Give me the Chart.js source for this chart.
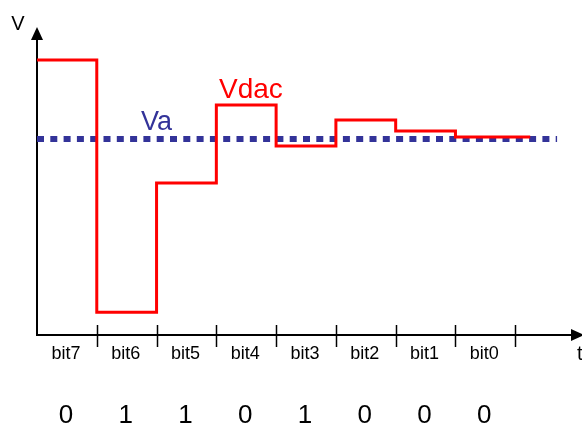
<!DOCTYPE html>
<html>
<head>
<meta charset="utf-8">
<script src="https://cdn.jsdelivr.net/npm/chart.js@4"></script>
<style>
  html, body { margin: 0; padding: 0; background: #fff; }
  canvas { display: block; }
</style>
</head>
<body>
<canvas id="grafico" width="582" height="428"></canvas>
<script>
// bit periods (x in bit times), DAC output and input voltage
const bitLabels = ['bit7', 'bit6', 'bit5', 'bit4', 'bit3', 'bit2', 'bit1', 'bit0'];
const bitValues = ['0', '1', '1', '0', '1', '0', '0', '0'];
const stepTimes = [0, 1, 2, 3, 4, 5, 6, 7, 8.25];
const vdacValues = [9.02, 0.75, 4.98, 7.54, 6.2, 7.05, 6.69, 6.49, 6.49];
const vaTimes = [0, 8.7];
const vaValues = [6.43, 6.43];

const FONT = '"Liberation Sans", Arial, sans-serif';

// axes with arrows, bit ticks and labels
const ejes = {
  id: 'ejes',
  beforeDatasetsDraw(chart) {
    const ctx = chart.ctx;
    const xs = chart.scales.x, ys = chart.scales.y;
    const x0 = xs.getPixelForValue(0), y0 = ys.getPixelForValue(0);
    ctx.save();
    ctx.strokeStyle = '#000';
    ctx.fillStyle = '#000';
    ctx.lineWidth = 2;
    // y axis
    ctx.beginPath();
    ctx.moveTo(x0, y0 + 1);
    ctx.lineTo(x0, 38);
    ctx.stroke();
    ctx.beginPath();
    ctx.moveTo(x0, 27);
    ctx.lineTo(x0 - 6, 40);
    ctx.lineTo(x0 + 6, 40);
    ctx.closePath();
    ctx.fill();
    // x axis
    ctx.beginPath();
    ctx.moveTo(x0 - 1, y0);
    ctx.lineTo(574, y0);
    ctx.stroke();
    ctx.beginPath();
    ctx.moveTo(584, y0);
    ctx.lineTo(571, y0 - 6);
    ctx.lineTo(571, y0 + 6);
    ctx.closePath();
    ctx.fill();
    // ticks at bit boundaries
    ctx.lineWidth = 1.5;
    for (let i = 1; i <= bitLabels.length; i++) {
      const px = Math.round(xs.getPixelForValue(i)) + 0.5;
      ctx.beginPath();
      ctx.moveTo(px, y0 - 10);
      ctx.lineTo(px, y0 + 12);
      ctx.stroke();
    }
    // labels
    ctx.textAlign = 'center';
    ctx.textBaseline = 'alphabetic';
    ctx.font = '18px ' + FONT;
    bitLabels.forEach((b, i) => {
      ctx.fillText(b, xs.getPixelForValue(i + 0.5) - 1, 359);
    });
    ctx.font = '26px ' + FONT;
    bitValues.forEach((v, i) => {
      ctx.fillText(v, xs.getPixelForValue(i + 0.5) - 1, 423);
    });
    ctx.font = '20px ' + FONT;
    ctx.fillText('V', 18, 30);
    ctx.textAlign = 'left';
    ctx.fillText('t', 577, 360);
    ctx.font = '28px ' + FONT;
    ctx.fillStyle = '#ff0000';
    ctx.fillText('Vdac', 219, 98);
    ctx.fillStyle = '#333399';
    ctx.font = '27px ' + FONT;
    ctx.fillText('Va', 141, 130);
    ctx.restore();
  }
};

new Chart(document.getElementById('grafico'), {
  type: 'line',
  data: {
    datasets: [{
      label: 'Vdac',
      data: stepTimes.map((t, i) => ({ x: t, y: vdacValues[i] })),
      borderColor: '#ff0000',
      borderWidth: 3,
      stepped: true,
      borderJoinStyle: 'miter',
      pointRadius: 0,
      fill: false
    }, {
      label: 'Va',
      data: vaTimes.map((t, i) => ({ x: t, y: vaValues[i] })),
      borderColor: '#333399',
      borderWidth: 6,
      borderDash: [7, 6.3],
      borderCapStyle: 'butt',
      pointRadius: 0,
      fill: false
    }]
  },
  options: {
    responsive: false,
    animation: false,
    layout: { padding: { left: 37, right: 1, top: 30, bottom: 93 } },
    plugins: { legend: { display: false }, tooltip: { enabled: false } },
    scales: {
      x: { type: 'linear', min: 0, max: 9.1, display: false },
      y: { min: 0, max: 10, display: false }
    }
  },
  plugins: [ejes]
});
</script>
</body>
</html>
